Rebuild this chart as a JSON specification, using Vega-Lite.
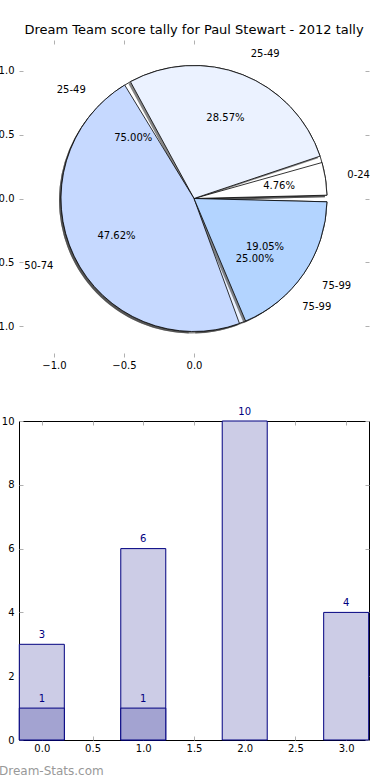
{
  "$schema": "https://vega.github.io/schema/vega-lite/v6.json",
  "padding": {"left": -11, "top": 23, "right": 0, "bottom": 0},
  "bounds": "flush",
  "spacing": 64,
  "config": {
    "font": "DejaVu Sans",
    "axis": {
      "labelFontSize": 10,
      "labelColor": "#000000",
      "tickColor": "#b0b0b0",
      "tickSize": -4,
      "tickWidth": 1,
      "grid": false,
      "domain": false,
      "title": null,
      "labelPadding": 7
    },
    "axisLeft": {"labelPadding": 9},
    "axisRight": {"labelPadding": 9},
    "view": {"stroke": "#000000", "strokeWidth": 1}
  },
  "datasets": {
    "pie1": [
      {"range": "0-24", "share": 0.0476},
      {"range": "25-49", "share": 0.2857},
      {"range": "50-74", "share": 0.4762},
      {"range": "75-99", "share": 0.1905}
    ],
    "pie2": [
      {"range": "25-49", "share": 0.75},
      {"range": "75-99", "share": 0.25}
    ],
    "bars": [
      {"x": 0, "count": 3},
      {"x": 1, "count": 6},
      {"x": 2, "count": 10},
      {"x": 3, "count": 4}
    ],
    "bars2": [
      {"x": 0, "count": 1},
      {"x": 1, "count": 1}
    ]
  },
  "vconcat": [
    {
      "width": 350,
      "height": 317,
      "view": {"stroke": null},
      "title": {"text": "Dream Team score tally for Paul Stewart - 2012 tally", "fontSize": 13, "fontWeight": "normal", "color": "#000000", "baseline": "bottom", "offset": -10},
      "resolve": {"axis": {"x": "independent", "y": "independent"}, "scale": {"color": "independent"}},
      "layer": [
        {
          "data": {"name": "pie2"},
          "mark": {"type": "arc", "outerRadius": 133, "padAngle": 0.05, "fill": "#333333", "opacity": 0.6, "xOffset": -2, "yOffset": 2},
          "encoding": {
            "theta": {"field": "share", "type": "quantitative", "stack": true, "scale": {"domain": [0, 1], "range": [1.5708, -4.7124]}},
            "order": {"field": "range", "type": "ordinal", "sort": "ascending"},
            "x": {"datum": 0, "type": "quantitative", "scale": {"domain": [-1.25, 1.25], "nice": false, "zero": false}, "axis": {"orient": "bottom", "values": [-1, -0.5, 0], "format": ".1f"}},
            "y": {"datum": 0, "type": "quantitative", "scale": {"domain": [-1.24, 1.24], "nice": false, "zero": false}, "axis": {"orient": "left", "values": [-1, -0.5, 0, 0.5, 1], "format": ".1f"}}
          }
        },
        {
          "data": {"name": "pie2"},
          "mark": {"type": "arc", "outerRadius": 133, "padAngle": 0.05, "stroke": "#000000", "strokeWidth": 0.8},
          "encoding": {
            "theta": {"field": "share", "type": "quantitative", "stack": true},
            "order": {"field": "range", "type": "ordinal", "sort": "ascending"},
            "color": {"field": "range", "type": "nominal", "legend": null, "scale": {"domain": ["25-49", "75-99"], "range": ["#FFFFFF", "#EBF2FF"]}},
            "x": {"datum": 0, "type": "quantitative", "axis": {"orient": "top", "values": [-1, -0.5, 0], "labels": false}},
            "y": {"datum": 0, "type": "quantitative", "axis": {"orient": "right", "values": [-1, -0.5, 0, 0.5, 1], "labels": false}}
          }
        },
        {
          "data": {"name": "pie1"},
          "mark": {"type": "arc", "outerRadius": 133, "padAngle": 0.05, "fill": "#333333", "opacity": 0.6, "xOffset": -2, "yOffset": 2},
          "encoding": {
            "theta": {"field": "share", "type": "quantitative", "stack": true},
            "order": {"field": "range", "type": "ordinal", "sort": "ascending"},
            "x": {"datum": 0, "type": "quantitative", "axis": null},
            "y": {"datum": 0, "type": "quantitative", "axis": null}
          }
        },
        {
          "data": {"name": "pie1"},
          "mark": {"type": "arc", "outerRadius": 133, "padAngle": 0.05, "stroke": "#000000", "strokeWidth": 0.8},
          "encoding": {
            "theta": {"field": "share", "type": "quantitative", "stack": true},
            "order": {"field": "range", "type": "ordinal", "sort": "ascending"},
            "color": {"field": "range", "type": "nominal", "legend": null, "scale": {"domain": ["0-24", "25-49", "50-74", "75-99"], "range": ["#FFFFFF", "#EBF2FF", "#C6D9FF", "#B3D4FF"]}},
            "x": {"datum": 0, "type": "quantitative", "axis": null},
            "y": {"datum": 0, "type": "quantitative", "axis": null}
          }
        },
        {
          "data": {"name": "pie2"},
          "mark": {"type": "text", "radius": 86, "fontSize": 10, "color": "#000000"},
          "encoding": {
            "theta": {"field": "share", "type": "quantitative", "stack": true},
            "order": {"field": "range", "type": "ordinal", "sort": "ascending"},
            "text": {"field": "share", "type": "quantitative", "format": ".2%"},
            "x": {"datum": 0, "type": "quantitative", "axis": null},
            "y": {"datum": 0, "type": "quantitative", "axis": null}
          }
        },
        {
          "data": {"name": "pie2"},
          "mark": {"type": "text", "radius": 153, "fontSize": 10, "color": "#000000", "align": "right"},
          "encoding": {
            "theta": {"field": "share", "type": "quantitative", "stack": true},
            "order": {"field": "range", "type": "ordinal", "sort": "ascending"},
            "text": {"condition": {"test": "datum.range === '25-49'", "field": "range", "type": "nominal"}, "value": ""},
            "x": {"datum": 0, "type": "quantitative", "axis": null},
            "y": {"datum": 0, "type": "quantitative", "axis": null}
          }
        },
        {
          "data": {"name": "pie2"},
          "mark": {"type": "text", "radius": 153, "fontSize": 10, "color": "#000000", "align": "left"},
          "encoding": {
            "theta": {"field": "share", "type": "quantitative", "stack": true},
            "order": {"field": "range", "type": "ordinal", "sort": "ascending"},
            "text": {"condition": {"test": "datum.range === '75-99'", "field": "range", "type": "nominal"}, "value": ""},
            "x": {"datum": 0, "type": "quantitative", "axis": null},
            "y": {"datum": 0, "type": "quantitative", "axis": null}
          }
        },
        {
          "data": {"name": "pie1"},
          "mark": {"type": "text", "radius": 86, "fontSize": 10, "color": "#000000"},
          "encoding": {
            "theta": {"field": "share", "type": "quantitative", "stack": true},
            "order": {"field": "range", "type": "ordinal", "sort": "ascending"},
            "text": {"field": "share", "type": "quantitative", "format": ".2%"},
            "x": {"datum": 0, "type": "quantitative", "axis": null},
            "y": {"datum": 0, "type": "quantitative", "axis": null}
          }
        },
        {
          "data": {"name": "pie1"},
          "mark": {"type": "text", "radius": 156, "fontSize": 10, "color": "#000000", "align": "right"},
          "encoding": {
            "theta": {"field": "share", "type": "quantitative", "stack": true},
            "order": {"field": "range", "type": "ordinal", "sort": "ascending"},
            "text": {"condition": {"test": "datum.range === '50-74'", "field": "range", "type": "nominal"}, "value": ""},
            "x": {"datum": 0, "type": "quantitative", "axis": null},
            "y": {"datum": 0, "type": "quantitative", "axis": null}
          }
        },
        {
          "data": {"name": "pie1"},
          "mark": {"type": "text", "radius": 155, "fontSize": 10, "color": "#000000", "align": "left"},
          "encoding": {
            "theta": {"field": "share", "type": "quantitative", "stack": true},
            "order": {"field": "range", "type": "ordinal", "sort": "ascending"},
            "text": {"condition": {"test": "datum.range !== '50-74'", "field": "range", "type": "nominal"}, "value": ""},
            "x": {"datum": 0, "type": "quantitative", "axis": null},
            "y": {"datum": 0, "type": "quantitative", "axis": null}
          }
        }
      ]
    },
    {
      "width": 350,
      "height": 319,
      "title": {"text": "Dream-Stats.com", "orient": "bottom", "anchor": "start", "frame": "group", "dx": -20, "fontSize": 12, "fontWeight": "normal", "color": "#999999", "baseline": "top", "offset": 13},
      "resolve": {"axis": {"x": "independent", "y": "independent"}},
      "layer": [
        {
          "data": {"name": "bars"},
          "mark": {"type": "bar", "width": 45, "fill": "#CCCCE6", "stroke": "#000080", "strokeWidth": 1},
          "encoding": {
            "x": {"field": "x", "type": "quantitative", "scale": {"domain": [-0.225, 3.225], "nice": false, "zero": false, "padding": 0}, "axis": {"orient": "bottom", "values": [0, 0.5, 1, 1.5, 2, 2.5, 3], "format": ".1f"}},
            "y": {"field": "count", "type": "quantitative", "scale": {"domain": [0, 10], "nice": false, "padding": 0}, "axis": {"orient": "left", "values": [0, 2, 4, 6, 8, 10], "format": "d"}}
          }
        },
        {
          "data": {"name": "bars2"},
          "mark": {"type": "bar", "width": 45, "fill": "#A3A3D1", "stroke": "#000080", "strokeWidth": 1},
          "encoding": {
            "x": {"field": "x", "type": "quantitative", "axis": {"orient": "top", "values": [0, 0.5, 1, 1.5, 2, 2.5, 3], "labels": false}},
            "y": {"field": "count", "type": "quantitative", "axis": {"orient": "right", "values": [0, 2, 4, 6, 8, 10], "labels": false}}
          }
        },
        {
          "data": {"name": "bars"},
          "mark": {"type": "text", "fontSize": 10, "color": "#000080", "baseline": "middle", "dy": -9.5},
          "encoding": {
            "x": {"field": "x", "type": "quantitative", "axis": null},
            "y": {"field": "count", "type": "quantitative", "axis": null},
            "text": {"field": "count", "type": "quantitative"}
          }
        },
        {
          "data": {"name": "bars2"},
          "mark": {"type": "text", "fontSize": 10, "color": "#000080", "baseline": "middle", "dy": -9.5},
          "encoding": {
            "x": {"field": "x", "type": "quantitative", "axis": null},
            "y": {"field": "count", "type": "quantitative", "axis": null},
            "text": {"field": "count", "type": "quantitative"}
          }
        }
      ]
    }
  ]
}
